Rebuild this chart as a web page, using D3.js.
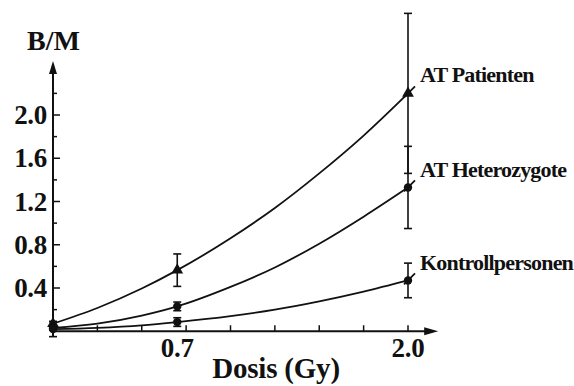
<!DOCTYPE html>
<html>
<head>
<meta charset="utf-8">
<script src="https://cdn.jsdelivr.net/npm/d3@7"></script>
<style>
  body { margin: 0; background: #fff; }
</style>
</head>
<body>
<div id="chart"></div>
<script>
// measured doses and B/M values
var doses = [0, 0.7, 2.0];
var seriesNames = ["AT Patienten", "AT Heterozygote", "Kontrollpersonen"];
var patientenValues = [0.07, 0.565, 2.20];
var patientenErrors = [0.02, 0.15, 0.74];
var heteroValues = [0.03, 0.23, 1.33];
var heteroErrors = [0.02, 0.04, 0.38];
var kontrollValues = [0.02, 0.085, 0.47];
var kontrollErrors = [0.07, 0.04, 0.16];

// fitted curves
var curveDoses = [0, 0.25, 0.5, 0.7, 1.0, 1.25, 1.5, 1.75, 2.0];
var patientenCurve = [0.07, 0.215, 0.395, 0.565, 0.86, 1.14, 1.46, 1.81, 2.20];
var heteroCurve = [0.03, 0.07, 0.145, 0.23, 0.41, 0.59, 0.81, 1.06, 1.33];
var kontrollCurve = [0.02, 0.032, 0.055, 0.085, 0.14, 0.20, 0.277, 0.367, 0.47];

var yTicks = [0.4, 0.8, 1.2, 1.6, 2.0];
var yMinorTicks = [0.2, 0.6, 1.0, 1.4, 1.8, 2.2];
var xTicks = [0.25, 0.5, 0.75, 1.0, 1.25, 1.5, 1.75, 2.0];
var xLabels = [0.7, 2.0];

var width = 574, height = 386;
var fontFamily = "'Liberation Serif', 'DejaVu Serif', serif";

var x = d3.scaleLinear().domain([0, 2]).range([53, 408]);
var y = d3.scaleLinear().domain([0, 2]).range([331.25, 115]);

var svg = d3.select("#chart").append("svg")
    .attr("width", width)
    .attr("height", height)
    .style("font-family", fontFamily)
    .style("font-weight", "bold");

var ink = "#111";

//axes
svg.append("line")
    .attr("x1", x(0)).attr("x2", x(2.14))
    .attr("y1", y(0)).attr("y2", y(0))
    .attr("stroke", ink).attr("stroke-width", 2);
svg.append("path")
    .attr("d", "M" + x(2.17) + "," + y(0) + "L" + (x(2.17) - 14) + "," + (y(0) - 4) + "L" + (x(2.17) - 14) + "," + (y(0) + 4) + "Z")
    .attr("fill", ink);

svg.append("line")
    .attr("x1", x(0)).attr("x2", x(0))
    .attr("y1", y(-0.05)).attr("y2", y(2.42))
    .attr("stroke", ink).attr("stroke-width", 2);
svg.append("path")
    .attr("d", "M" + x(0) + "," + y(2.5) + "L" + (x(0) - 4) + "," + (y(2.5) + 13) + "L" + (x(0) + 4) + "," + (y(2.5) + 13) + "Z")
    .attr("fill", ink);

//ticks
svg.selectAll(".ytick").data(yTicks).enter().append("line")
    .attr("x1", x(0)).attr("x2", x(0) + 7)
    .attr("y1", function (d) { return y(d); }).attr("y2", function (d) { return y(d); })
    .attr("stroke", ink).attr("stroke-width", 1.5);
svg.selectAll(".yminor").data(yMinorTicks).enter().append("line")
    .attr("x1", x(0)).attr("x2", x(0) + 4)
    .attr("y1", function (d) { return y(d); }).attr("y2", function (d) { return y(d); })
    .attr("stroke", ink).attr("stroke-width", 1.5);
svg.selectAll(".xtick").data(xTicks).enter().append("line")
    .attr("x1", function (d) { return x(d); }).attr("x2", function (d) { return x(d); })
    .attr("y1", y(0)).attr("y2", y(0) - 6)
    .attr("stroke", ink).attr("stroke-width", 1.5);

svg.selectAll(".ylabel").data(yTicks).enter().append("text")
    .attr("x", 47)
    .attr("y", function (d) { return y(d) + 9; })
    .attr("text-anchor", "end")
    .attr("font-size", "27px")
    .attr("letter-spacing", "-0.3px")
    .attr("fill", ink)
    .text(function (d) { return d.toFixed(1); });

svg.selectAll(".xlabel").data(xLabels).enter().append("text")
    .attr("x", function (d) { return x(d); })
    .attr("y", 357)
    .attr("text-anchor", "middle")
    .attr("font-size", "27px")
    .attr("letter-spacing", "-0.3px")
    .attr("fill", ink)
    .text(function (d) { return d.toFixed(1); });

svg.append("text")
    .attr("x", 27).attr("y", 50)
    .attr("font-size", "28px")
    .attr("fill", ink)
    .text("B/M");

svg.append("text")
    .attr("x", 276).attr("y", 378)
    .attr("text-anchor", "middle")
    .attr("font-size", "29px")
    .attr("letter-spacing", "-0.2px")
    .attr("fill", ink)
    .text("Dosis (Gy)");

//curves
var line = d3.line()
    .x(function (d) { return x(d[0]); })
    .y(function (d) { return y(d[1]); })
    .curve(d3.curveMonotoneX);

var series = [
    {name: seriesNames[0], values: patientenValues, errors: patientenErrors, curve: patientenCurve, symbol: "triangle", labelY: 82},
    {name: seriesNames[1], values: heteroValues, errors: heteroErrors, curve: heteroCurve, symbol: "circle", labelY: 177},
    {name: seriesNames[2], values: kontrollValues, errors: kontrollErrors, curve: kontrollCurve, symbol: "circle", labelY: 270}
];

series.forEach(function (s) {
    svg.append("path")
        .datum(curveDoses.map(function (d, i) { return [d, s.curve[i]]; }))
        .attr("d", line)
        .attr("fill", "none")
        .attr("stroke", ink)
        .attr("stroke-width", 1.8);

    // error bars
    var g = svg.append("g");
    doses.forEach(function (d, i) {
        var v = s.values[i], e = s.errors[i];
        g.append("line")
            .attr("x1", x(d)).attr("x2", x(d))
            .attr("y1", y(v - e)).attr("y2", y(v + e))
            .attr("stroke", ink).attr("stroke-width", 1.6);
        [v - e, v + e].forEach(function (c) {
            g.append("line")
                .attr("x1", x(d) - 4).attr("x2", x(d) + 4)
                .attr("y1", y(c)).attr("y2", y(c))
                .attr("stroke", ink).attr("stroke-width", 1.6);
        });
        var sym = d3.symbol()
            .type(s.symbol === "triangle" ? d3.symbolTriangle : d3.symbolCircle)
            .size(s.symbol === "triangle" ? 60 : 55);
        g.append("path")
            .attr("d", sym())
            .attr("transform", "translate(" + x(d) + "," + y(v) + ")")
            .attr("fill", ink);
    });

    // leader to label
    var lx = x(2), ly = y(s.values[2]);
    svg.append("line")
        .attr("x1", lx - 4).attr("y1", ly + 4)
        .attr("x2", lx + 7).attr("y2", ly - 7)
        .attr("stroke", ink).attr("stroke-width", 1.8);

    svg.append("text")
        .attr("x", 420).attr("y", s.labelY)
        .attr("font-size", "22px")
        .attr("letter-spacing", "-0.8px")
        .attr("fill", ink)
        .text(s.name);
});
</script>
</body>
</html>
